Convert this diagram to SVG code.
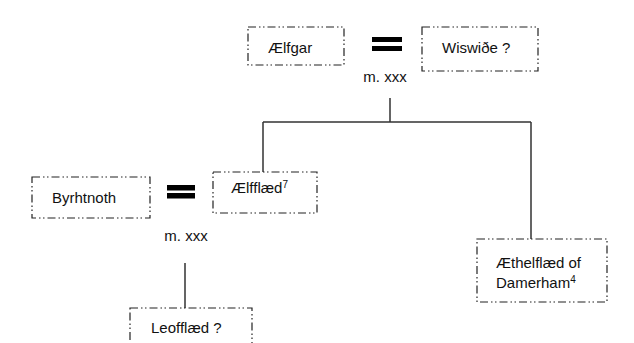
<svg xmlns="http://www.w3.org/2000/svg" width="634" height="343" viewBox="0 0 634 343">
<style>
.box{fill:#fff;stroke:#222;stroke-width:1.2;stroke-dasharray:8 3 1.5 2.5 1.5 3}
.t{font-family:"Liberation Sans",Arial,sans-serif;font-size:15px;fill:#111}
.sup{font-size:10px}
.eq{fill:#000}
.c{stroke:#333;stroke-width:1.5;fill:none}
</style>
<rect width="634" height="343" fill="#fff"/>
<g id="connectors">
<path class="c" d="M390 98V122M263 122H531M263 122V172M531 122V239M185 263V308"/>
</g>
<g id="marriage1">
<rect class="eq" x="372" y="37" width="30" height="5"/>
<rect class="eq" x="372" y="46" width="30" height="5"/>
<text class="t" x="385" y="82" text-anchor="middle">m. xxx</text>
</g>
<g id="marriage2">
<rect class="eq" x="167" y="185" width="28" height="5.5"/>
<rect class="eq" x="167" y="193" width="28" height="5.5"/>
<text class="t" x="186" y="241" text-anchor="middle">m. xxx</text>
</g>
<g id="aelfgar">
<rect class="box" x="248" y="27" width="96" height="38"/>
<text class="t" x="268" y="53">Ælfgar</text>
</g>
<g id="wiswithe">
<rect class="box" x="422" y="27" width="116" height="44"/>
<text class="t" x="442" y="53">Wiswiðe ?</text>
</g>
<g id="byrhtnoth">
<rect class="box" x="32" y="177" width="118" height="41"/>
<text class="t" x="52" y="203">Byrhtnoth</text>
</g>
<g id="aelfflaed">
<rect class="box" x="213" y="172" width="104" height="41"/>
<text class="t" x="231" y="193">Ælfflæd<tspan class="sup" dy="-5">7</tspan></text>
</g>
<g id="aethelflaed">
<rect class="box" x="477" y="239" width="130" height="63"/>
<text class="t" x="496" y="268">Æthelflæd of</text>
<text class="t" x="496" y="288">Damerham<tspan class="sup" dy="-5">4</tspan></text>
</g>
<g id="leofflaed">
<rect class="box" x="130" y="308" width="122" height="50"/>
<text class="t" x="151" y="333">Leofflæd ?</text>
</g>
</svg>
